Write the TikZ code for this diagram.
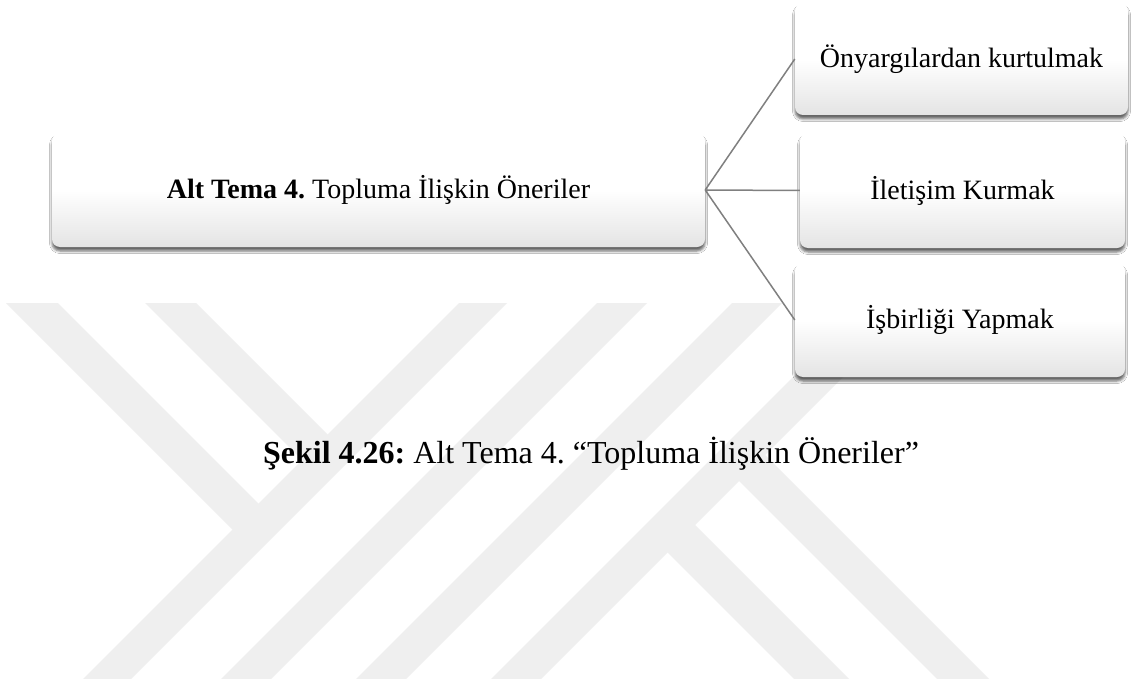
\documentclass[tikz,border=0pt]{standalone}
\usepackage{fontspec}
\setmainfont{Liberation Serif}
\usetikzlibrary{shadows.blur}
\definecolor{wmgray}{RGB}{239,239,239}
\definecolor{conngray}{RGB}{128,128,128}
\definecolor{boxbottom}{RGB}{228,228,228}
\frenchspacing
\begin{document}
\begin{tikzpicture}[x=1pt,y=-1pt,
  wm/.style={fill=wmgray,draw=none},
  sabox/.style={rectangle,rounded corners=8pt,draw=none,
    top color=white,bottom color=boxbottom,middle color=white,
    blur shadow={shadow xshift=0pt,shadow yshift=-4pt,shadow blur radius=2.5pt,shadow opacity=60},
    inner sep=0pt,align=center,font=\fontsize{28}{34}\selectfont},
  conn/.style={draw=conngray,line width=1.5pt},
  captext/.style={font=\fontsize{32}{38}\selectfont,anchor=base,inner sep=0pt}]
\useasboundingbox (0,0) rectangle (1137,679);
\fill[white] (0,0) rectangle (1137,679);
% watermark
\fill[wm] (459,303) -- (507,303) -- (131,679) -- (83,679) -- cycle;
\fill[wm] (597,303) -- (647,303) -- (271,679) -- (221,679) -- cycle;
\fill[wm] (732,303) -- (782,303) -- (406,679) -- (356,679) -- cycle;
\fill[wm] (867,303) -- (917,303) -- (541,679) -- (491,679) -- cycle;
\fill[wm] (6,303) -- (58,303) -- (270.5,515.5) -- (244.5,541.5) -- cycle;
\fill[wm] (145,303) -- (196,303) -- (339.5,446.5) -- (314,472) -- cycle;
\fill[wm] (726.5,468.5) -- (752.5,442.5) -- (989,679) -- (937,679) -- cycle;
\fill[wm] (655,540) -- (682.5,512.5) -- (849,679) -- (794,679) -- cycle;
% boxes
\node[sabox,minimum width=653pt,minimum height=114pt] (main) at (378.5,190) {\textbf{Alt Tema 4.} Topluma İlişkin Öneriler};
\node[sabox,minimum width=333pt,minimum height=112pt] (b1) at (961.5,59) {Önyargılardan kurtulmak};
\node[sabox,minimum width=325pt,minimum height=115pt] (b2) at (962.5,190.5) {İletişim Kurmak};
\node[sabox,minimum width=330pt,minimum height=114pt] (b3) at (960,320) {İşbirliği Yapmak};
% connectors
\draw[conn] (main.east) -- (b1.west);
\draw[conn] (main.east) -- (b2.west);
\draw[conn] (main.east) -- (b3.west);
% caption
\node[captext] (cap) at (591,463) {\textbf{Şekil 4.26:} Alt Tema 4. “Topluma İlişkin Öneriler”};
\end{tikzpicture}
\end{document}
